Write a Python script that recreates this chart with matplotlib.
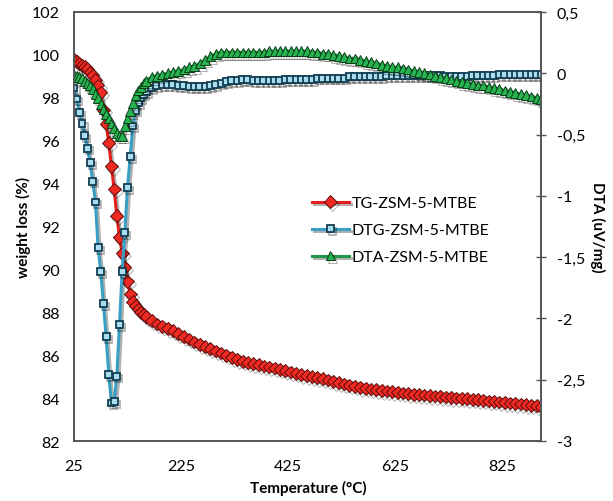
import matplotlib
matplotlib.use('Agg')
import matplotlib.pyplot as plt
import matplotlib.patheffects as pe

plt.rcParams['font.family'] = ['Lato', 'DejaVu Sans']

temperature = [25, 30, 35, 40, 45, 50, 55, 60, 65, 70, 75, 80, 85, 90, 95, 100,
               105, 110, 115, 120, 125, 130, 135, 140, 145, 150, 155, 160,
               170, 180, 190, 200, 210, 220, 230, 240, 250, 260, 270, 280, 290, 300,
               310, 320, 330, 340, 350, 360, 370, 380, 390, 400, 410, 420, 430, 440,
               450, 460, 470, 480, 490, 500, 510, 520, 530, 540, 550, 560, 570, 580,
               590, 600, 610, 620, 630, 640, 650, 660, 670, 680, 690, 700, 710, 720,
               730, 740, 750, 760, 770, 780, 790, 800, 810, 820, 830, 840, 850, 860,
               870, 880, 890, 898]

tg = [99.8, 99.7, 99.6, 99.52, 99.45, 99.35, 99.2, 99.05, 98.85, 98.6, 98.25, 97.45,
      96.8, 95.9, 94.8, 93.75, 92.5, 91.5, 90.75, 90.1, 89.45, 88.85, 88.5, 88.3,
      88.15, 88.0, 87.9, 87.8,
      87.6, 87.45, 87.35, 87.25, 87.15, 87.0, 86.87, 86.75, 86.62, 86.5, 86.4, 86.3,
      86.2, 86.1, 86.0, 85.9, 85.8, 85.72, 85.65, 85.6, 85.55, 85.5, 85.45, 85.4,
      85.35, 85.28, 85.22, 85.16, 85.1, 85.05, 85.0, 84.95, 84.9, 84.84, 84.78, 84.72,
      84.66, 84.6, 84.55, 84.5, 84.46, 84.42, 84.39, 84.36, 84.33, 84.3, 84.27, 84.24,
      84.21, 84.18, 84.16, 84.14, 84.12, 84.1, 84.08, 84.05, 84.03, 84.01, 83.99, 83.97,
      83.95, 83.92, 83.9, 83.87, 83.85, 83.82, 83.8, 83.77, 83.75, 83.72, 83.7, 83.67,
      83.64, 83.6]

dtg = [-0.12, -0.21, -0.32, -0.41, -0.51, -0.61, -0.73, -0.88, -1.05, -1.42, -1.62, -1.88,
       -2.15, -2.46, -2.69, -2.68, -2.47, -2.05, -1.62, -1.30, -0.93, -0.68, -0.43, -0.30,
       -0.24, -0.20, -0.17, -0.15,
       -0.12, -0.10, -0.09, -0.09, -0.09, -0.10, -0.10, -0.11, -0.11, -0.11, -0.11, -0.10,
       -0.09, -0.08, -0.07, -0.06, -0.06, -0.05, -0.05, -0.06, -0.06, -0.06, -0.06, -0.06,
       -0.06, -0.05, -0.05, -0.05, -0.05, -0.05, -0.05, -0.04, -0.04, -0.04, -0.04, -0.04,
       -0.04, -0.03, -0.03, -0.03, -0.03, -0.03, -0.03, -0.03, -0.02, -0.02, -0.02, -0.02,
       -0.02, -0.02, -0.02, -0.02, -0.02, -0.02, -0.02, -0.03, -0.03, -0.03, -0.03, -0.03,
       -0.02, -0.02, -0.02, -0.02, -0.02, -0.01, -0.01, -0.01, -0.01, -0.01, -0.01, -0.01,
       -0.01, -0.01]

dta = [-0.01, -0.02, -0.03, -0.04, -0.06, -0.08, -0.10, -0.13, -0.17, -0.20, -0.25, -0.29,
       -0.33, -0.37, -0.41, -0.45, -0.49, -0.51, -0.51, -0.43, -0.37, -0.31, -0.24, -0.18,
       -0.14, -0.11, -0.08, -0.06,
       -0.03, -0.02, -0.01, 0.00, 0.01, 0.02, 0.03, 0.05, 0.06, 0.08, 0.11, 0.14,
       0.16, 0.17, 0.17, 0.17, 0.17, 0.17, 0.17, 0.17, 0.17, 0.17, 0.18, 0.18,
       0.18, 0.18, 0.18, 0.18, 0.18, 0.18, 0.17, 0.17, 0.16, 0.16, 0.15, 0.14,
       0.13, 0.12, 0.12, 0.11, 0.10, 0.09, 0.08, 0.07, 0.06, 0.05, 0.05, 0.04,
       0.03, 0.02, 0.01, 0.00, -0.01, -0.02, -0.03, -0.04, -0.05, -0.06, -0.07, -0.08,
       -0.09, -0.10, -0.10, -0.11, -0.12, -0.13, -0.14, -0.15, -0.16, -0.17, -0.18, -0.19,
       -0.20, -0.21]

x_ticks = [25, 225, 425, 625, 825]
left_ticks = [82, 84, 86, 88, 90, 92, 94, 96, 98, 100, 102]
right_ticks = [0.5, 0, -0.5, -1, -1.5, -2, -2.5, -3]
right_labels = ['0,5', '0', '-0,5', '-1', '-1,5', '-2', '-2,5', '-3']

fig = plt.figure(figsize=(6.13, 5.02), dpi=100)
ax = fig.add_axes([74/613, 1-442/502, 467/613, 429/502])
ax2 = ax.twinx()

shadow = [pe.SimpleLineShadow(offset=(1.5, -2), shadow_color='k', alpha=0.3), pe.Normal()]

l1, = ax.plot(temperature, tg, color='#e3201b', lw=2.2, marker='D', ms=6.5,
              mfc='#ee2a22', mec='#5a0a0a', mew=0.7, label='TG-ZSM-5-MTBE',
              path_effects=shadow)
l2, = ax2.plot(temperature, dtg, color='#3a9fc4', lw=2.2, marker='s', ms=5,
               mfc='#a9def0', mec='#143f52', mew=1.3, label='DTG-ZSM-5-MTBE',
               path_effects=shadow)
l3, = ax2.plot(temperature, dta, color='#1e9a45', lw=2.2, marker='^', ms=7,
               mfc='#27b350', mec='#0b3d18', mew=0.7, label='DTA-ZSM-5-MTBE',
               path_effects=shadow)

ax.set_xlim(25, 898)
ax.set_ylim(82, 102)
ax2.set_ylim(-3, 0.5)

ax.set_xticks(x_ticks)
ax.set_yticks(left_ticks)
ax2.set_yticks(right_ticks)
ax2.set_yticklabels(right_labels)

ax.tick_params(axis='x', length=0, pad=13, labelsize=11.5)
ax.tick_params(axis='y', length=0, pad=10, labelsize=11.5)
ax2.tick_params(axis='y', direction='inout', length=7, width=1, color='#555555',
                pad=8, labelsize=11.5)

for a in (ax, ax2):
    for s in a.spines.values():
        s.set_color('#555555')
        s.set_linewidth(1.2)

fig.text(23/613, 1-227/502, 'weight loss (%)', rotation=90, ha='center', va='center',
         fontsize=11, fontweight='bold')
fig.text(598/613, 1-227/502, 'DTA (uV/mg)', rotation=270, ha='center', va='center',
         fontsize=11, fontweight='bold')
fig.text(308/613, 1-488/502, 'Temperature (°C)', ha='center', va='center',
         fontsize=11, fontweight='bold')

ax.legend(handles=[l1, l2, l3], loc='upper left', bbox_to_anchor=(312/613, 1-197/502),
          bbox_transform=fig.transFigure, frameon=False, fontsize=11.5, numpoints=1,
          handlelength=2.3, handletextpad=0.2, labelspacing=0.8, borderpad=0,
          borderaxespad=0)

fig.savefig('out.png', dpi=100)
